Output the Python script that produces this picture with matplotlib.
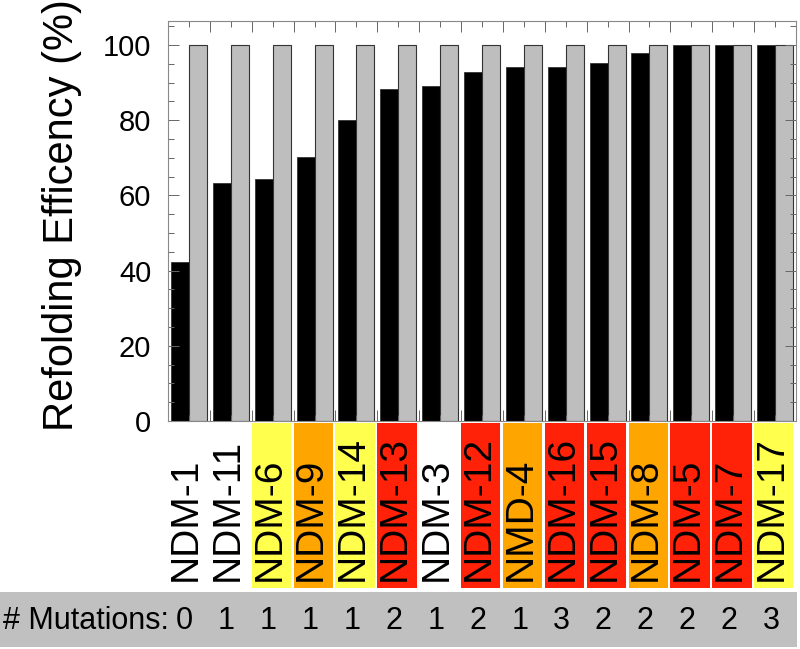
import numpy as np
import matplotlib
matplotlib.use('Agg')
import matplotlib.pyplot as plt
import matplotlib.transforms as mtransforms

plt.rcParams['font.family'] = ['Liberation Sans', 'DejaVu Sans']

variants = ['NDM-1', 'NDM-11', 'NDM-6', 'NDM-9', 'NDM-14', 'NDM-13', 'NDM-3', 'NDM-12',
            'NMD-4', 'NDM-16', 'NDM-15', 'NDM-8', 'NDM-5', 'NDM-7', 'NDM-17']
refolding = [42.2, 63.4, 64.3, 70.1, 80.0, 88.2, 89.1, 92.9, 94.2, 94.2, 95.3, 98.0, 100, 100, 100]
reference = [100] * 15
mutations = [0, 1, 1, 1, 1, 2, 1, 2, 1, 3, 2, 2, 2, 2, 3]
label_colors = ['white', 'white', '#ffff4d', '#ffa500', '#ffff4d', '#ff2208', 'white', '#ff2208',
                '#ffa500', '#ff2208', '#ff2208', '#ffa500', '#ff2208', '#ff2208', '#ffff4d']

W, H = 800, 649
fig = plt.figure(figsize=(W / 100, H / 100), dpi=100)

# main bar axes
ax = fig.add_axes([168 / W, 1 - 421 / H, 628 / W, 400 / H])
x = np.arange(len(variants))
ax.bar(x + 0.285, refolding, width=0.43, color='black', edgecolor='#333333', linewidth=0.6)
ax.bar(x + 0.715, reference, width=0.43, color='#bebebe', edgecolor='#333333', linewidth=0.8)
ax.set_xlim(0, len(variants))
ax.set_ylim(0, 106.4)
ax.set_yticks([0, 20, 40, 60, 80, 100])
ax.set_yticks(np.arange(0, 106, 5), minor=True)
ax.set_xticks(np.arange(len(variants) + 1))
ax.set_xticks(x + 0.5, minor=True)
ax.set_xticklabels([])
ax.tick_params(which='both', direction='in', top=True, right=True, color='#666666')
ax.tick_params(which='major', length=8, width=0.7)
ax.tick_params(which='minor', length=4, width=0.7)
ax.tick_params(axis='y', which='major', labelsize=21, pad=12)
for s in ax.spines.values():
    s.set_color('#888888')
    s.set_linewidth(0.8)

fig.text(62 / W, 1 - 215 / H, 'Refolding Efficency (%)', rotation=90,
         ha='center', va='center', fontsize=30)

# coloured label strip
ax2 = fig.add_axes([168 / W, 1 - 588 / H, 628 / W, 165 / H])
ax2.bar(x + 0.47, [1] * len(variants), width=0.94, color=label_colors)
ax2.set_xlim(0, len(variants))
ax2.set_ylim(0, 1)
ax2.axis('off')
for i, name in enumerate(variants):
    ax2.text(i + 0.42, 0.04, name, rotation=90, ha='center', va='bottom', fontsize=28)

# mutations band
ax3 = fig.add_axes([0, 1 - 647 / H, 797 / W, 55 / H])
ax3.set_facecolor('#c0c0c0')
ax3.set_xticks([])
ax3.set_yticks([])
for s in ax3.spines.values():
    s.set_visible(False)
ax3.set_zorder(0)

trans = mtransforms.blended_transform_factory(ax.transData, fig.transFigure)
fig.text(3 / W, 1 - 621 / H, '# Mutations:', ha='left', va='center', fontsize=22)
for i, m in enumerate(mutations):
    fig.text(i + 0.4, 1 - 621 / H, str(m), transform=trans, ha='center', va='center', fontsize=22)

fig.savefig('out.png', dpi=100)
